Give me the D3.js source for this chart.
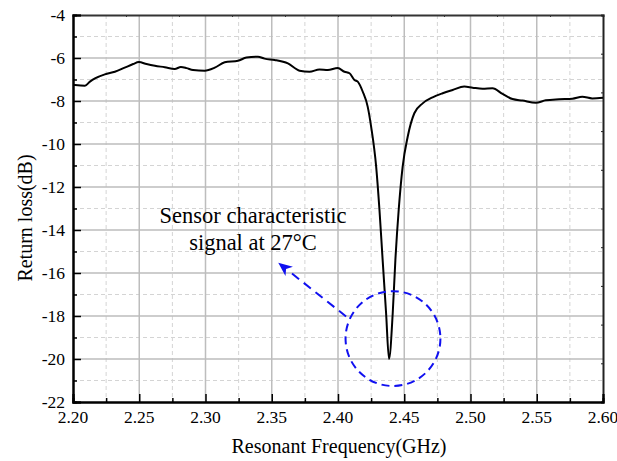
<!DOCTYPE html>
<html><head><meta charset="utf-8">
<script src="https://cdn.jsdelivr.net/npm/d3@7"></script>
<style>body{margin:0;background:#fff}svg{display:block}</style>
</head><body>
<svg id="c" width="617" height="461"></svg>
<script>
const freq = [2.2, 2.2015, 2.209, 2.2128, 2.2166, 2.224, 2.2316, 2.239, 2.2454, 2.2497, 2.2555, 2.2618, 2.2693, 2.2768, 2.2814, 2.2857, 2.2906, 2.2994, 2.307, 2.3145, 2.3245, 2.3309, 2.3396, 2.3446, 2.3522, 2.3622, 2.371, 2.3785, 2.386, 2.3923, 2.3998, 2.4049, 2.4087, 2.4124, 2.4149, 2.4187, 2.4224, 2.425, 2.4288, 2.4313, 2.4337, 2.4363, 2.4385, 2.4413, 2.4433, 2.4458, 2.4488, 2.4526, 2.4576, 2.4639, 2.4714, 2.479, 2.4865, 2.4953, 2.5016, 2.5091, 2.5166, 2.5242, 2.5317, 2.5392, 2.5493, 2.5568, 2.5668, 2.5769, 2.5844, 2.5919, 2.6];
const loss = [-7.25, -7.26, -7.29, -7.10, -6.95, -6.76, -6.64, -6.45, -6.28, -6.19, -6.28, -6.36, -6.43, -6.51, -6.42, -6.47, -6.56, -6.59, -6.45, -6.20, -6.13, -5.98, -5.94, -6.03, -6.09, -6.25, -6.59, -6.64, -6.53, -6.56, -6.47, -6.64, -6.71, -7.02, -7.10, -7.57, -8.26, -9.19, -11.05, -13.07, -15.40, -17.87, -20.0, -17.87, -15.40, -13.07, -11.05, -9.66, -8.57, -8.11, -7.83, -7.64, -7.49, -7.33, -7.38, -7.43, -7.41, -7.67, -7.91, -7.98, -8.08, -7.97, -7.92, -7.89, -7.80, -7.88, -7.85];
const xTicks = [2.20, 2.25, 2.30, 2.35, 2.40, 2.45, 2.50, 2.55, 2.60];
const yTicks = [-22, -20, -18, -16, -14, -12, -10, -8, -6, -4];
const xMinor = [2.225, 2.275, 2.325, 2.375, 2.425, 2.475, 2.525, 2.575];
const yMinor = [-21, -19, -17, -15, -13, -11, -9, -7, -5];
const xTitle = "Resonant Frequency(GHz)";
const yTitle = "Return loss(dB)";
const noteLines = ["Sensor characteristic", "signal at 27°C"];
const noteCircle = {f: 2.4415, v: -19.05, r: 0.0358};
const arrowFrom = {f: 2.4061, v: -18.02};
const arrowTo = {f: 2.3549, v: -15.52};

const L = 73, R = 603, T = 15, B = 402;
const svg = d3.select("#c");
const x = d3.scaleLinear().domain([2.2, 2.6]).range([L, R]);
const y = d3.scaleLinear().domain([-22, -4]).range([B, T]);
const font = "'Liberation Serif','Times New Roman',serif";

// grid
const g = svg.append("g");
g.selectAll(".gxm").data(xMinor).join("line").attr("x1", d => x(d)).attr("x2", d => x(d)).attr("y1", T).attr("y2", B)
  .attr("stroke", "#d4d4d4").attr("stroke-width", 1).attr("stroke-dasharray", "4,3");
g.selectAll(".gym").data(yMinor).join("line").attr("y1", d => y(d)).attr("y2", d => y(d)).attr("x1", L).attr("x2", R)
  .attr("stroke", "#d4d4d4").attr("stroke-width", 1).attr("stroke-dasharray", "4,3");
g.selectAll(".gx").data(xTicks.slice(1, -1)).join("line").attr("x1", d => x(d)).attr("x2", d => x(d)).attr("y1", T).attr("y2", B)
  .attr("stroke", "#bdbdbd").attr("stroke-width", 1.5);
g.selectAll(".gy").data(yTicks.slice(1, -1)).join("line").attr("y1", d => y(d)).attr("y2", d => y(d)).attr("x1", L).attr("x2", R)
  .attr("stroke", "#bdbdbd").attr("stroke-width", 1.5);

// top & right frame with small ticks
const xTop = d3.scaleLinear().domain([0, 1]).range([L, R]);
const yRight = d3.scaleLinear().domain([0, 1]).range([B, T]);
svg.append("g").attr("transform", `translate(0,${T})`)
  .call(d3.axisBottom(xTop).ticks(10).tickSize(2).tickFormat(""))
  .call(s => s.select(".domain").attr("stroke", "#333").attr("stroke-width", 2))
  .call(s => s.selectAll(".tick line").attr("stroke", "#333"));
svg.append("g").attr("transform", `translate(${R},0)`)
  .call(d3.axisLeft(yRight).ticks(10).tickSize(2).tickFormat(""))
  .call(s => s.select(".domain").attr("stroke", "#222").attr("stroke-width", 2))
  .call(s => s.selectAll(".tick line").attr("stroke", "#222"));

// curve
const line = d3.line().x((d, i) => x(freq[i])).y(d => y(d)).curve(d3.curveMonotoneX);
svg.append("path").datum(loss).attr("d", line).attr("fill", "none").attr("stroke", "#000").attr("stroke-width", 2)
  .attr("stroke-linejoin", "round");

// axes left/bottom
const xa = svg.append("g").attr("transform", `translate(0,${B})`)
  .call(d3.axisTop(x).tickValues(xTicks).tickSize(8).tickFormat(""));
xa.append("g").call(d3.axisTop(x).tickValues(xMinor).tickSize(4).tickFormat(""));
xa.selectAll(".domain").attr("stroke", "#000").attr("stroke-width", 2);
xa.selectAll(".tick line").attr("stroke", "#000").attr("stroke-width", 1.5);
const ya = svg.append("g").attr("transform", `translate(${L},0)`)
  .call(d3.axisRight(y).tickValues(yTicks).tickSize(8).tickFormat(""));
ya.append("g").call(d3.axisRight(y).tickValues(yMinor).tickSize(4).tickFormat(""));
ya.selectAll(".domain").attr("stroke", "#000").attr("stroke-width", 2);
ya.selectAll(".tick line").attr("stroke", "#000").attr("stroke-width", 1.5);

// tick labels
svg.append("g").selectAll("text").data(xTicks).join("text")
  .attr("x", d => x(d)).attr("y", B + 21).attr("text-anchor", "middle")
  .attr("font-family", font).attr("font-size", 17.5).text(d => d.toFixed(2));
svg.append("g").selectAll("text").data(yTicks).join("text")
  .attr("x", L - 8).attr("y", d => y(d) + 6).attr("text-anchor", "end")
  .attr("font-family", font).attr("font-size", 17.5).text(d => d);

// titles
svg.append("text").attr("x", 339).attr("y", 453).attr("text-anchor", "middle")
  .attr("font-family", font).attr("font-size", 20).text(xTitle);
svg.append("text").attr("transform", `translate(32,218) rotate(-90)`).attr("text-anchor", "middle")
  .attr("font-family", font).attr("font-size", 20).text(yTitle);

// annotation
svg.append("text").attr("font-family", font).attr("font-size", 22.5).attr("text-anchor", "middle")
  .selectAll("tspan").data(noteLines).join("tspan")
  .attr("x", 253).attr("y", (d, i) => 223 + i * 27).text(d => d);
const cx = x(noteCircle.f), cy = y(noteCircle.v), cr = x(noteCircle.f + noteCircle.r) - cx;
svg.append("circle").attr("cx", cx).attr("cy", cy).attr("r", cr).attr("fill", "none")
  .attr("stroke", "#1010f0").attr("stroke-width", 2).attr("stroke-dasharray", "8,5");
const ax1 = x(arrowFrom.f), ay1 = y(arrowFrom.v), ax2 = x(arrowTo.f), ay2 = y(arrowTo.v);
const ang = Math.atan2(ay2 - ay1, ax2 - ax1);
const hl = 14, hw = 6;
const bx = ax2 - hl * Math.cos(ang), by = ay2 - hl * Math.sin(ang);
svg.append("line").attr("x1", ax1).attr("y1", ay1).attr("x2", bx).attr("y2", by)
  .attr("stroke", "#1010f0").attr("stroke-width", 2).attr("stroke-dasharray", "9,6");
svg.append("path").attr("d", `M${ax2},${ay2}L${bx - hw * Math.sin(ang)},${by + hw * Math.cos(ang)}L${bx + 4 * Math.cos(ang)},${by + 4 * Math.sin(ang)}L${bx + hw * Math.sin(ang)},${by - hw * Math.cos(ang)}Z`)
  .attr("fill", "#1010f0");
</script>
</body></html>
